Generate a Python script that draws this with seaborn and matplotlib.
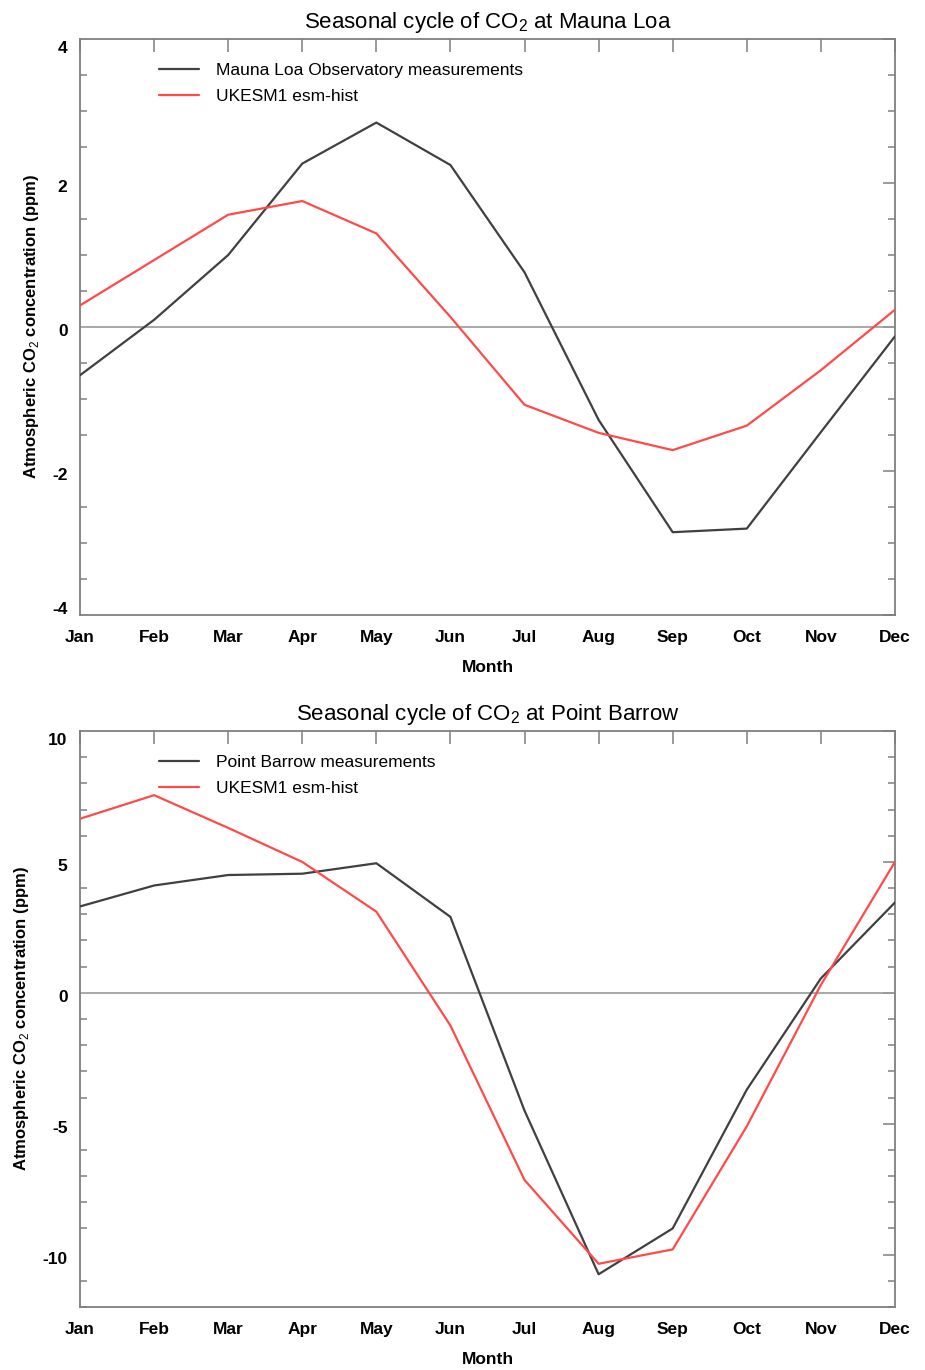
import numpy as np
import pandas as pd
import matplotlib
matplotlib.use("Agg")
import matplotlib.pyplot as plt
from matplotlib.ticker import MultipleLocator
from matplotlib.transforms import ScaledTranslation
import seaborn as sns

months = ["Jan", "Feb", "Mar", "Apr", "May", "Jun",
          "Jul", "Aug", "Sep", "Oct", "Nov", "Dec"]

# Mauna Loa
mlo_obs = [-0.67, 0.10, 1.00, 2.27, 2.84, 2.25, 0.76, -1.29, -2.85, -2.80, -1.46, -0.13]
mlo_model = [0.30, 0.93, 1.56, 1.75, 1.30, 0.14, -1.08, -1.47, -1.71, -1.37, -0.60, 0.24]

# Point Barrow
brw_obs = [3.3, 4.1, 4.5, 4.55, 4.95, 2.9, -4.5, -10.75, -9.0, -3.7, 0.55, 3.45]
brw_model = [6.65, 7.55, 6.3, 5.0, 3.1, -1.25, -7.15, -10.35, -9.8, -5.1, 0.3, 5.0]

sns.set_theme(style="white")
plt.rcParams['font.family'] = ['Liberation Sans', 'DejaVu Sans']
plt.rcParams['mathtext.fontset'] = 'custom'
plt.rcParams['mathtext.rm'] = 'Liberation Sans'
plt.rcParams['axes.unicode_minus'] = False
plt.rcParams['text.color'] = 'black'
plt.rcParams['axes.labelcolor'] = 'black'
plt.rcParams['xtick.color'] = 'black'
plt.rcParams['ytick.color'] = 'black'

spine_col = "#7f7f7f"
obs_col = "#404040"
mod_col = "#ff4a4a"


def panel(fig, ax, obs, model, obs_name, site, ylim, major, minor):
    df = pd.DataFrame({
        "month": list(range(12)) * 2,
        "value": obs + model,
        "series": [obs_name] * 12 + ["UKESM1 esm-hist"] * 12,
    })
    ax.axhline(0, color="#9a9a9a", lw=1.2, zorder=1)
    sns.lineplot(data=df, x="month", y="value", hue="series",
                 palette=[obs_col, mod_col], lw=1.6, ax=ax, zorder=3)
    ax.set_xlim(0, 11)
    ax.set_ylim(*ylim)
    ax.set_xticks(range(12))
    ax.set_xticklabels(months)
    start = np.ceil(ylim[0] / major) * major
    yt = np.arange(start, ylim[1] + 0.01, major)
    ax.set_yticks(yt)
    ax.set_yticklabels([str(int(v)) for v in yt])
    ax.yaxis.set_minor_locator(MultipleLocator(minor))
    ax.tick_params(which="both", direction="in", top=True, right=True,
                   color=spine_col, width=1.1)
    ax.tick_params(which="major", length=9, labelsize=12.5)
    ax.tick_params(axis="x", which="major", pad=10.5)
    ax.tick_params(axis="y", which="major", pad=9)
    ax.tick_params(which="minor", length=5, left=True, right=True)
    ax.tick_params(axis="x", which="minor", bottom=False, top=False)
    for lab in ax.get_xticklabels() + ax.get_yticklabels():
        lab.set_fontweight("bold")
    # end labels are pulled inside the axis range
    for v, lab in zip(yt, ax.get_yticklabels()):
        if np.isclose(v, ylim[1]):
            dy = -0.08
        elif np.isclose(v, ylim[0]):
            dy = 0.07
        else:
            dy = -0.03
        lab.set_transform(lab.get_transform()
                          + ScaledTranslation(0, dy, fig.dpi_scale_trans))
    for s in ax.spines.values():
        s.set_color(spine_col)
        s.set_linewidth(1.3)
    ax.set_title("Seasonal cycle of CO$_2$ at " + site, fontsize=16, pad=8)
    ax.set_xlabel("Month", fontsize=12.5, fontweight="bold", labelpad=11)
    ax.set_ylabel("Atmospheric CO$_2$ concentration (ppm)", fontsize=12,
                  fontweight="bold", labelpad=8)
    leg = ax.legend(loc="upper left", bbox_to_anchor=(0.078, 0.985),
                    frameon=False, fontsize=12.5, handlelength=2.3,
                    handletextpad=1.0, labelspacing=0.6)
    for h in leg.get_lines():
        h.set_linewidth(1.6)


fig = plt.figure(figsize=(9.25, 13.7), dpi=100)
ax1 = fig.add_axes([0.0865, 0.5511, 0.881, 0.4204])
ax2 = fig.add_axes([0.0865, 0.0460, 0.881, 0.4204])

panel(fig, ax1, mlo_obs, mlo_model, "Mauna Loa Observatory measurements",
      "Mauna Loa", (-4, 4), 2, 0.5)
panel(fig, ax2, brw_obs, brw_model, "Point Barrow measurements",
      "Point Barrow", (-12, 10), 5, 1)
ax1.set_ylim(-4, 4)
ax2.set_ylim(-12, 10)

fig.savefig("out.png", dpi=100, facecolor="white")
